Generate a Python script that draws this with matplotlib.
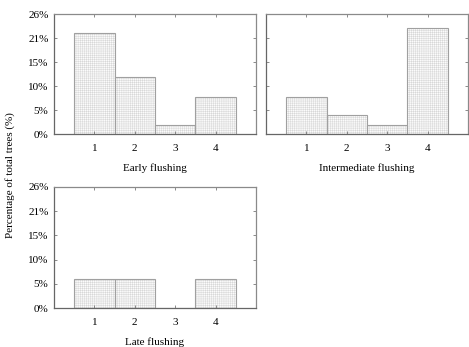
import matplotlib
matplotlib.use("Agg")
import matplotlib.pyplot as plt
from matplotlib.ticker import FixedLocator, FuncFormatter

plt.rcParams['font.family'] = ['Liberation Serif', 'DejaVu Serif']
plt.rcParams['hatch.linewidth'] = 0.3

classes = [1, 2, 3, 4]
early = [22.2, 12.4, 2.0, 8.2]
intermediate = [8.2, 4.1, 2.0, 23.2]
late = [6.2, 6.2, 0.0, 6.2]
titles = ["Early flushing", "Intermediate flushing", "Late flushing"]

W, H = 469, 347
fig = plt.figure(figsize=(W / 100, H / 100), dpi=100)

def ax_rect(x0, y0, x1, y1):
    return [x0 / W, 1 - y1 / H, (x1 - x0) / W, (y1 - y0) / H]

rects = [ax_rect(54, 14, 256, 134), ax_rect(266, 14, 468, 134), ax_rect(54, 187, 256, 308)]
series = [early, intermediate, late]

step = 100 / 19
yticks = [k * step for k in range(6)]

for i, (rect, vals, title) in enumerate(zip(rects, series, titles)):
    ax = fig.add_axes(rect)
    ax.bar(classes, vals, width=1.0, color='#fbfbfb', edgecolor='#d2d2d2',
           hatch='++++++++', linewidth=0)
    ax.bar(classes, vals, width=1.0, fill=False, edgecolor='#a0a0a0', linewidth=0.8)
    ax.set_xlim(0, 5)
    ax.set_ylim(0, 5 * step)
    ax.set_xticks(classes)
    ax.yaxis.set_major_locator(FixedLocator(yticks))
    ax.yaxis.set_major_formatter(FuncFormatter(lambda v, p: f"{int(v + 1e-9)}%"))
    ax.tick_params(direction='in', length=2.5, width=0.6, color='#777777',
                   labelsize=8, top=True, right=True)
    ax.tick_params(axis='x', pad=7)
    ax.tick_params(axis='y', pad=4)
    if i == 1:
        ax.tick_params(axis='y', labelleft=False)
    for s in ax.spines.values():
        s.set_color('#8a8a8a')
        s.set_linewidth(0.9)
    ax.spines['bottom'].set_color('#666666')
    ax.spines['left'].set_color('#666666')
    ax.set_xlabel(title, fontsize=8, labelpad=7.5)

fig.text(10 / W, 1 - 175 / H, "Percentage of total trees (%)", rotation=90,
         ha='center', va='center', fontsize=8)

fig.savefig("out.png", dpi=100)
